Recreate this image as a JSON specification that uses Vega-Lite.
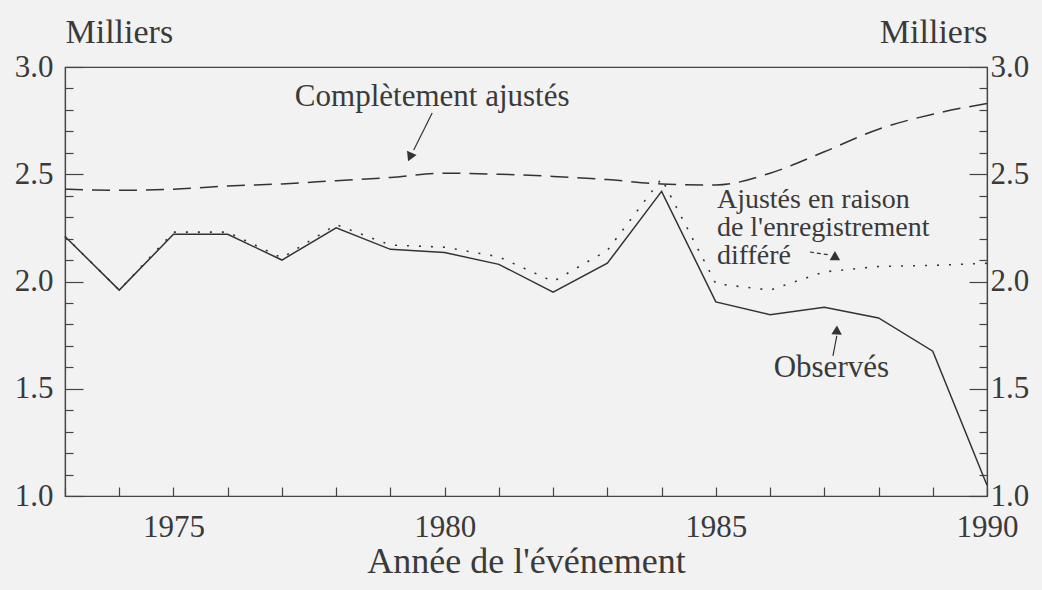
{
  "$schema": "https://vega.github.io/schema/vega-lite/v6.json",
  "width": 922,
  "height": 429,
  "autosize": {"type": "none"},
  "padding": {"left": 65, "top": 67, "right": 55, "bottom": 94},
  "background": "#f2f2f2",
  "config": {
    "view": {"stroke": "#444444", "strokeWidth": 1.2},
    "font": "Liberation Serif",
    "axis": {"domainColor": "#444444", "tickColor": "#444444", "labelColor": "#3a3a3a", "titleColor": "#3a3a3a", "labelFont": "Liberation Serif", "titleFont": "Liberation Serif", "titleFontWeight": "normal", "labelFontSize": 31, "domainWidth": 1.2, "tickWidth": 1.2, "grid": false, "labelFlush": false}
  },
  "datasets": {
    "observed": [
      {"year": 1973, "value": 2.21}, {"year": 1974, "value": 1.96}, {"year": 1975, "value": 2.22},
      {"year": 1976, "value": 2.22}, {"year": 1977, "value": 2.10}, {"year": 1978, "value": 2.25},
      {"year": 1979, "value": 2.15}, {"year": 1980, "value": 2.135}, {"year": 1981, "value": 2.08},
      {"year": 1982, "value": 1.95}, {"year": 1983, "value": 2.085}, {"year": 1984, "value": 2.42},
      {"year": 1985, "value": 1.905}, {"year": 1986, "value": 1.845}, {"year": 1987, "value": 1.88},
      {"year": 1988, "value": 1.83}, {"year": 1989, "value": 1.675}, {"year": 1990, "value": 1.05}
    ],
    "delayed": [
      {"year": 1973, "value": 2.21}, {"year": 1974, "value": 1.96}, {"year": 1975, "value": 2.23},
      {"year": 1976, "value": 2.23}, {"year": 1977, "value": 2.11}, {"year": 1978, "value": 2.265},
      {"year": 1979, "value": 2.17}, {"year": 1980, "value": 2.16}, {"year": 1981, "value": 2.115},
      {"year": 1982, "value": 2.0}, {"year": 1983, "value": 2.145}, {"year": 1984, "value": 2.48},
      {"year": 1985, "value": 1.99}, {"year": 1986, "value": 1.96}, {"year": 1987, "value": 2.045},
      {"year": 1988, "value": 2.07}, {"year": 1989, "value": 2.075}, {"year": 1990, "value": 2.085}
    ],
    "full": [
      {"year": 1973, "value": 2.43}, {"year": 1974, "value": 2.425}, {"year": 1975, "value": 2.43},
      {"year": 1976, "value": 2.445}, {"year": 1977, "value": 2.455}, {"year": 1978, "value": 2.47},
      {"year": 1979, "value": 2.485}, {"year": 1980, "value": 2.505}, {"year": 1981, "value": 2.5},
      {"year": 1982, "value": 2.49}, {"year": 1983, "value": 2.475}, {"year": 1984, "value": 2.455},
      {"year": 1985, "value": 2.45}, {"year": 1986, "value": 2.505}, {"year": 1987, "value": 2.605},
      {"year": 1988, "value": 2.71}, {"year": 1989, "value": 2.78}, {"year": 1990, "value": 2.83}
    ],
    "labelsCenter": [
      {"year": 1979.77, "value": 2.818, "label": "Complètement ajustés"},
      {"year": 1987.13, "value": 1.556, "label": "Observés"}
    ],
    "labelsLeft": [
      {"year": 1985.02, "value": 2.343, "label": "Ajustés en raison"},
      {"year": 1985.02, "value": 2.212, "label": "de l'enregistrement"},
      {"year": 1985.02, "value": 2.081, "label": "différé"}
    ],
    "arrowsSolid": [
      {"year": 1979.77, "value": 2.786, "year2": 1979.43, "value2": 2.613},
      {"year": 1987.16, "value": 1.653, "year2": 1987.23, "value2": 1.746}
    ],
    "arrowsDashed": [
      {"year": 1986.735, "value": 2.1375, "year2": 1987.10, "value2": 2.1235}
    ],
    "heads": [
      {"year": 1979.36, "value": 2.58, "angle": 204},
      {"year": 1987.23, "value": 1.774, "angle": 2},
      {"year": 1987.22, "value": 2.11, "angle": 120}
    ]
  },
  "layer": [
    {
      "data": {"name": "observed"},
      "mark": {"type": "line", "color": "#333333", "strokeWidth": 1.5},
      "encoding": {
        "x": {"field": "year", "type": "quantitative", "scale": {"domain": [1973, 1990], "nice": false, "zero": false},
          "axis": {"orient": "bottom", "values": [1973,1974,1975,1976,1977,1978,1979,1980,1981,1982,1983,1984,1985,1986,1987,1988,1989,1990],
            "tickSize": -9, "labelPadding": 25, "labelBaseline": "top", "labelFlush": false,
            "labelExpr": "datum.value % 5 === 0 ? datum.value : ''",
            "title": "Année de l'événement", "titleFontSize": 36, "titleAnchor": "middle", "titleBaseline": "alphabetic", "titleY": 76}},
        "y": {"field": "value", "type": "quantitative", "scale": {"domain": [1, 3], "nice": false, "zero": false},
          "axis": {"orient": "left", "values": [1.0,1.1,1.2,1.3,1.4,1.5,1.6,1.7,1.8,1.9,2.0,2.1,2.2,2.3,2.4,2.5,2.6,2.7,2.8,2.9,3.0],
            "tickSize": {"condition": {"test": "abs(datum.value*2 - round(datum.value*2)) < 0.001", "value": -18}, "value": -8},
            "labelPadding": 30, "labelBaseline": "middle",
            "labelExpr": "abs(datum.value*2 - round(datum.value*2)) < 0.001 ? format(datum.value, '.1f') : ''",
            "title": "Milliers", "titleFontSize": 34, "titleAngle": 0, "titleAlign": "left", "titleBaseline": "alphabetic", "titleX": 0, "titleY": -25}}
      }
    },
    {
      "data": {"name": "delayed"},
      "mark": {"type": "line", "color": "#333333", "strokeWidth": 1.6, "strokeDash": [2, 10]},
      "encoding": {
        "x": {"field": "year", "type": "quantitative", "axis": null},
        "y": {"field": "value", "type": "quantitative",
          "axis": {"orient": "right", "values": [1.0,1.1,1.2,1.3,1.4,1.5,1.6,1.7,1.8,1.9,2.0,2.1,2.2,2.3,2.4,2.5,2.6,2.7,2.8,2.9,3.0],
            "tickSize": {"condition": {"test": "abs(datum.value*2 - round(datum.value*2)) < 0.001", "value": -18}, "value": -8},
            "labelPadding": 21, "labelBaseline": "middle", "labelAlign": "left",
            "labelExpr": "abs(datum.value*2 - round(datum.value*2)) < 0.001 ? format(datum.value, '.1f') : ''",
            "title": "Milliers", "titleFontSize": 34, "titleAngle": 0, "titleAlign": "right", "titleBaseline": "alphabetic", "titleX": 0, "titleY": -25}}
      }
    },
    {
      "data": {"name": "full"},
      "mark": {"type": "line", "color": "#333333", "strokeWidth": 1.5, "strokeDash": [18, 9], "interpolate": "monotone"},
      "encoding": {
        "x": {"field": "year", "type": "quantitative", "axis": null},
        "y": {"field": "value", "type": "quantitative", "axis": null}
      }
    },
    {
      "data": {"name": "arrowsSolid"},
      "mark": {"type": "rule", "color": "#333333", "strokeWidth": 1.2},
      "encoding": {
        "x": {"field": "year", "type": "quantitative", "axis": null},
        "y": {"field": "value", "type": "quantitative", "axis": null},
        "x2": {"field": "year2"},
        "y2": {"field": "value2"}
      }
    },
    {
      "data": {"name": "arrowsDashed"},
      "mark": {"type": "rule", "color": "#333333", "strokeWidth": 1.2, "strokeDash": [4, 3]},
      "encoding": {
        "x": {"field": "year", "type": "quantitative", "axis": null},
        "y": {"field": "value", "type": "quantitative", "axis": null},
        "x2": {"field": "year2"},
        "y2": {"field": "value2"}
      }
    },
    {
      "data": {"name": "heads"},
      "mark": {"type": "point", "shape": "triangle-up", "filled": true, "color": "#333333", "size": 110, "opacity": 1},
      "encoding": {
        "x": {"field": "year", "type": "quantitative", "axis": null},
        "y": {"field": "value", "type": "quantitative", "axis": null},
        "angle": {"field": "angle", "type": "quantitative", "scale": null}
      }
    },
    {
      "data": {"name": "labelsCenter"},
      "mark": {"type": "text", "align": "center", "baseline": "alphabetic", "font": "Liberation Serif", "fontSize": 31, "color": "#3a3a3a"},
      "encoding": {
        "x": {"field": "year", "type": "quantitative", "axis": null},
        "y": {"field": "value", "type": "quantitative", "axis": null},
        "text": {"field": "label"}
      }
    },
    {
      "data": {"name": "labelsLeft"},
      "mark": {"type": "text", "align": "left", "baseline": "alphabetic", "font": "Liberation Serif", "fontSize": 28, "color": "#3a3a3a"},
      "encoding": {
        "x": {"field": "year", "type": "quantitative", "axis": null},
        "y": {"field": "value", "type": "quantitative", "axis": null},
        "text": {"field": "label"}
      }
    }
  ],
  "resolve": {"axis": {"x": "independent", "y": "independent"}}
}
